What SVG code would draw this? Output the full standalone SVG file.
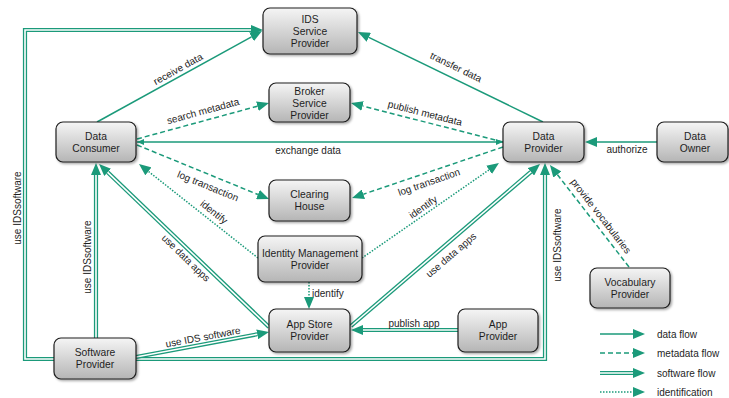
<svg xmlns="http://www.w3.org/2000/svg" xmlns:xlink="http://www.w3.org/1999/xlink" width="729" height="398" viewBox="0 0 729 398">
<style>
.node rect{fill:url(#g);stroke:#1e1e1e;stroke-width:1.2;filter:url(#sh)}
.node text, .lbl{font-family:"Liberation Sans",Arial,sans-serif;font-size:10px;fill:#1e1e1e}
.node text{text-anchor:middle;font-size:10.3px}
.lbl{text-anchor:middle}
.c{fill:none;stroke:#1b9a7a;stroke-width:1.5}
.d{stroke-dasharray:5 3}
.t{stroke-dasharray:1.5 1.5}
.so{fill:none;stroke:#1b9a7a;stroke-width:4.2}
.si{fill:none;stroke:#fff;stroke-width:1.6}
.ah{marker-end:url(#ah)}
</style>
<defs>
<linearGradient id="g" x1="0" y1="0" x2="0" y2="1">
<stop offset="0" stop-color="#f5f5f5"/>
<stop offset="1" stop-color="#b5b5b5"/>
</linearGradient>
<filter id="sh" x="-10%" y="-10%" width="130%" height="140%">
<feDropShadow dx="1.5" dy="1.5" stdDeviation="1" flood-color="#000" flood-opacity="0.35"/>
</filter>
<marker id="ah" viewBox="0 0 12 10" refX="0" refY="5" markerWidth="12" markerHeight="10" markerUnits="userSpaceOnUse" orient="auto">
<path d="M0,0 L12,5 L0,10 z" fill="#1b9a7a"/>
</marker>
<marker id="sm" viewBox="0 0 7 6" refX="7" refY="3" markerWidth="7" markerHeight="6" markerUnits="userSpaceOnUse" orient="auto-start-reverse">
<path d="M0,0 L7,3 L0,6 z" fill="#1b9a7a"/>
</marker>
</defs>
<rect width="729" height="398" fill="#fff"/>

<g id="connectors">
<!-- data flows -->
<path class="c ah" d="M97,122 L251.5,36.8"/>
<path class="c ah" d="M543,122 L368.8,37.3"/>
<path class="c" d="M137,142 L503,142" marker-start="url(#sm)" marker-end="url(#sm)"/>
<path class="c ah" d="M657,142 L597,142"/>
<!-- metadata flows -->
<path class="c d ah" d="M137,139 L257.4,106.2"/>
<path class="c d ah" d="M503,142 L362.6,106"/>
<path class="c d ah" d="M137,145 L257.9,194.5"/>
<path class="c d ah" d="M503,147 L363.4,194.2"/>
<path class="c d ah" d="M629,267 L557.3,174.5"/>
<!-- identification -->
<path class="c t ah" d="M258,258 L148.4,171.4"/>
<path class="c t ah" d="M362,258 L489.1,169.8"/>
<path class="c t ah" d="M309,282 L309,297"/>
<!-- software flows -->
<path class="so ah" d="M54,359 L25,359 L25,30 L251,30"/>
<path class="si" d="M54,359 L25,359 L25,30 L251,30"/>
<path class="so ah" d="M136,359 L545,359 L545,175"/>
<path class="si" d="M136,359 L545,359 L545,175"/>
<path class="so ah" d="M96,338 L96,175"/>
<path class="si" d="M96,338 L96,175"/>
<path class="so ah" d="M136,357 L257.2,334.3"/>
<path class="si" d="M136,357 L257.2,334.3"/>
<path class="so ah" d="M269,327 L107.7,172.3"/>
<path class="si" d="M269,327 L107.7,172.3"/>
<path class="so ah" d="M351,326 L530.9,171.8"/>
<path class="si" d="M351,326 L530.9,171.8"/>
<path class="so ah" d="M458,330 L363,330"/>
<path class="si" d="M458,330 L363,330"/>

<!-- labels -->
<text class="lbl" transform="translate(178,69) rotate(-28.9)" y="3.5">receive data</text>
<text class="lbl" transform="translate(456,67) rotate(25.9)" y="3.5">transfer data</text>
<text class="lbl" transform="translate(203,111) rotate(-15.3)" y="3.5">search metadata</text>
<text class="lbl" transform="translate(425,113) rotate(14.4)" y="3.5">publish metadata</text>
<text class="lbl" x="308" y="154">exchange data</text>
<text class="lbl" x="627" y="153">authorize</text>
<text class="lbl" transform="translate(208,186) rotate(22.2)" y="3.5">log transaction</text>
<text class="lbl" transform="translate(429,182) rotate(-19.3)" y="3.5">log transaction</text>
<text class="lbl" transform="translate(214,212) rotate(38.3)" y="3.5">identify</text>
<text class="lbl" transform="translate(423,207) rotate(-34.7)" y="3.5">identify</text>
<text class="lbl" x="312" y="297" style="text-anchor:start">identify</text>
<text class="lbl" transform="translate(186,258) rotate(44)" y="3.5">use data apps</text>
<text class="lbl" transform="translate(451,255) rotate(-40.6)" y="3.5">use data apps</text>
<text class="lbl" transform="translate(203,337) rotate(-10.6)" y="3.5">use IDS software</text>
<text class="lbl" x="414" y="327">publish app</text>
<text class="lbl" transform="translate(601,216) rotate(52.2)" y="3.5">provide vocabularies</text>
<text class="lbl" transform="translate(87,257) rotate(-90)" y="3.5">use IDSsoftware</text>
<text class="lbl" transform="translate(17,208) rotate(-90)" y="3.5">use IDSsoftware</text>
<text class="lbl" transform="translate(557,245) rotate(-90)" y="3.5">use IDSsoftware</text>
</g>

<g id="ids-service-provider" class="node">
<rect x="263" y="8" width="94" height="46" rx="7"/>
<text x="310" y="23">IDS</text><text x="310" y="35">Service</text><text x="310" y="47">Provider</text>
</g>
<g id="broker-service-provider" class="node">
<rect x="269" y="83" width="81" height="39" rx="7"/>
<text x="309.5" y="95">Broker</text><text x="309.5" y="107">Service</text><text x="309.5" y="119">Provider</text>
</g>
<g id="data-consumer" class="node">
<rect x="56" y="122" width="80" height="40" rx="7"/>
<text x="96" y="140">Data</text><text x="96" y="151.5">Consumer</text>
</g>
<g id="clearing-house" class="node">
<rect x="269" y="180" width="81" height="41" rx="7"/>
<text x="309.5" y="198">Clearing</text><text x="309.5" y="209.5">House</text>
</g>
<g id="identity-management-provider" class="node">
<rect x="258" y="236" width="104" height="46" rx="7"/>
<text x="310" y="257">Identity Management</text><text x="310" y="268.5">Provider</text>
</g>
<g id="app-store-provider" class="node">
<rect x="269" y="309" width="81" height="43" rx="7"/>
<text x="309.5" y="328">App Store</text><text x="309.5" y="339.5">Provider</text>
</g>
<g id="software-provider" class="node">
<rect x="54" y="338" width="82" height="41" rx="7"/>
<text x="95" y="356">Software</text><text x="95" y="367.5">Provider</text>
</g>
<g id="data-provider" class="node">
<rect x="503" y="122" width="81" height="40" rx="7"/>
<text x="543.5" y="140">Data</text><text x="543.5" y="151.5">Provider</text>
</g>
<g id="data-owner" class="node">
<rect x="657" y="122" width="71" height="40" rx="7"/>
<text x="695" y="140">Data</text><text x="695" y="151.5">Owner</text>
</g>
<g id="vocabulary-provider" class="node">
<rect x="590" y="268" width="80" height="40" rx="7"/>
<text x="630" y="286">Vocabulary</text><text x="630" y="297.5">Provider</text>
</g>
<g id="app-provider" class="node">
<rect x="458" y="309" width="80" height="43" rx="7"/>
<text x="498" y="328">App</text><text x="498" y="339.5">Provider</text>
</g>

<g id="legend">
<path class="c ah" d="M600,334 L633,334"/>
<path class="c d ah" d="M600,353 L633,353"/>
<path class="so ah" d="M600,373 L633,373"/>
<path class="si" d="M600,373 L633,373"/>
<path class="c t ah" d="M600,392 L633,392"/>
<text class="lbl" x="657" y="337.5" style="text-anchor:start">data flow</text>
<text class="lbl" x="657" y="356.5" style="text-anchor:start">metadata flow</text>
<text class="lbl" x="657" y="376.5" style="text-anchor:start">software flow</text>
<text class="lbl" x="657" y="395.5" style="text-anchor:start">identification</text>
</g>
</svg>
